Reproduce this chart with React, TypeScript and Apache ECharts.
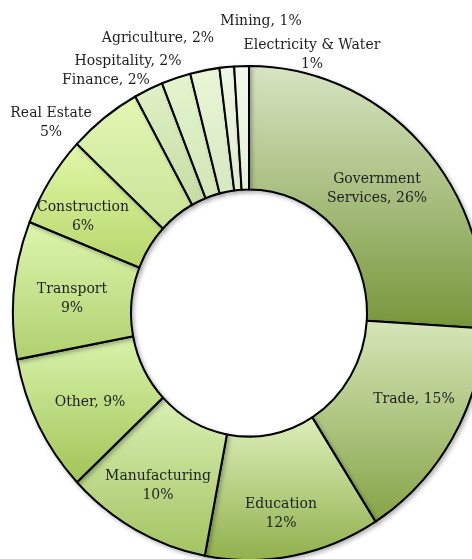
import React, { useEffect, useRef } from "react";
import * as echarts from "echarts";

// ---- data ----
const categories = [
  "Government Services",
  "Trade",
  "Education",
  "Manufacturing",
  "Other",
  "Transport",
  "Construction",
  "Real Estate",
  "Finance",
  "Hospitality",
  "Agriculture",
  "Mining",
  "Electricity & Water",
];
const shares = [26, 15, 12, 10, 9, 9, 6, 5, 2, 2, 2, 1, 1];
const displayNames = [
  "Government\nServices",
  "Trade",
  "Education",
  "Manufacturing",
  "Other",
  "Transport",
  "Construction",
  "Real Estate",
  "Finance",
  "Hospitality",
  "Agriculture",
  "Mining",
  "Electricity & Water",
];
const separators = [", ", ", ", "\n", "\n", ", ", "\n", "\n", "\n", ", ", ", ", ", ", ", ", "\n"];

// ---- styles ----
const topColors = [
  "#d8e4c3", "#d6e6b8", "#dcefb9", "#d9f0b2", "#d9f3ab", "#ddf6ad", "#e1f8aa",
  "#e3f8b4", "#e0f1c6", "#e4f4cd", "#eaf6d7", "#eff8e3", "#f3f9e8",
];
const bottomColors = [
  "#77973a", "#86a447", "#92b04e", "#a4c363", "#a2c457", "#b0d070", "#b7d66a",
  "#c8e296", "#c6dca4", "#d2e6b6", "#d6e8c2", "#e0ecd0", "#e6efd8",
];
// label centres in page pixels
const labelPos: [number, number][] = [
  [377, 187], [414, 398], [281, 512], [158, 484], [90, 401], [72, 297], [83, 215],
  [51, 121], [106, 79], [128, 60], [158, 37], [261, 20], [312, 53],
];
const STRETCH = 1.047;
const W = 472;
const H = 559 / STRETCH;

export default function App() {
  const ref = useRef<HTMLDivElement>(null);
  useEffect(() => {
    if (!ref.current) return;
    const chart = echarts.init(ref.current, undefined, { renderer: "svg" });
    const data = categories.map((name, i) => ({
      name,
      value: shares[i],
      itemStyle: {
        color: new echarts.graphic.LinearGradient(0, 0, 0, 1, [
          { offset: 0, color: topColors[i] },
          { offset: 1, color: bottomColors[i] },
        ]),
      },
    }));
    chart.setOption({
      animation: false,
      series: [
        {
          type: "pie",
          center: [249, 299],
          radius: [118, 236],
          startAngle: 90,
          clockwise: true,
          avoidLabelOverlap: false,
          itemStyle: {
            borderColor: "#000",
            borderWidth: 2,
            shadowBlur: 4,
            shadowOffsetX: 2,
            shadowOffsetY: 2,
            shadowColor: "rgba(0,0,0,0.3)",
          },
          label: {
            show: true,
            position: "inside",
            fontFamily: "DejaVu Serif",
            fontSize: 14,
            lineHeight: 18,
            color: "#1e1e1e",
            formatter: (p: any) =>
              displayNames[p.dataIndex] + separators[p.dataIndex] + p.value + "%",
          },
          labelLine: { show: false },
          labelLayout: (p: any) => {
            const pos = labelPos[p.dataIndex];
            return { x: pos[0], y: pos[1] / STRETCH, align: "center", verticalAlign: "middle" };
          },
          emphasis: { disabled: true },
          data,
        },
      ],
    });
    return () => chart.dispose();
  }, []);
  return (
    <div
      style={{
        position: "fixed",
        left: 0,
        top: 0,
        width: W,
        height: 559,
        overflow: "hidden",
        background: "#fff",
      }}
    >
      <div
        ref={ref}
        style={{
          width: W,
          height: H,
          transform: `scaleY(${STRETCH})`,
          transformOrigin: "0 0",
        }}
      />
    </div>
  );
}
